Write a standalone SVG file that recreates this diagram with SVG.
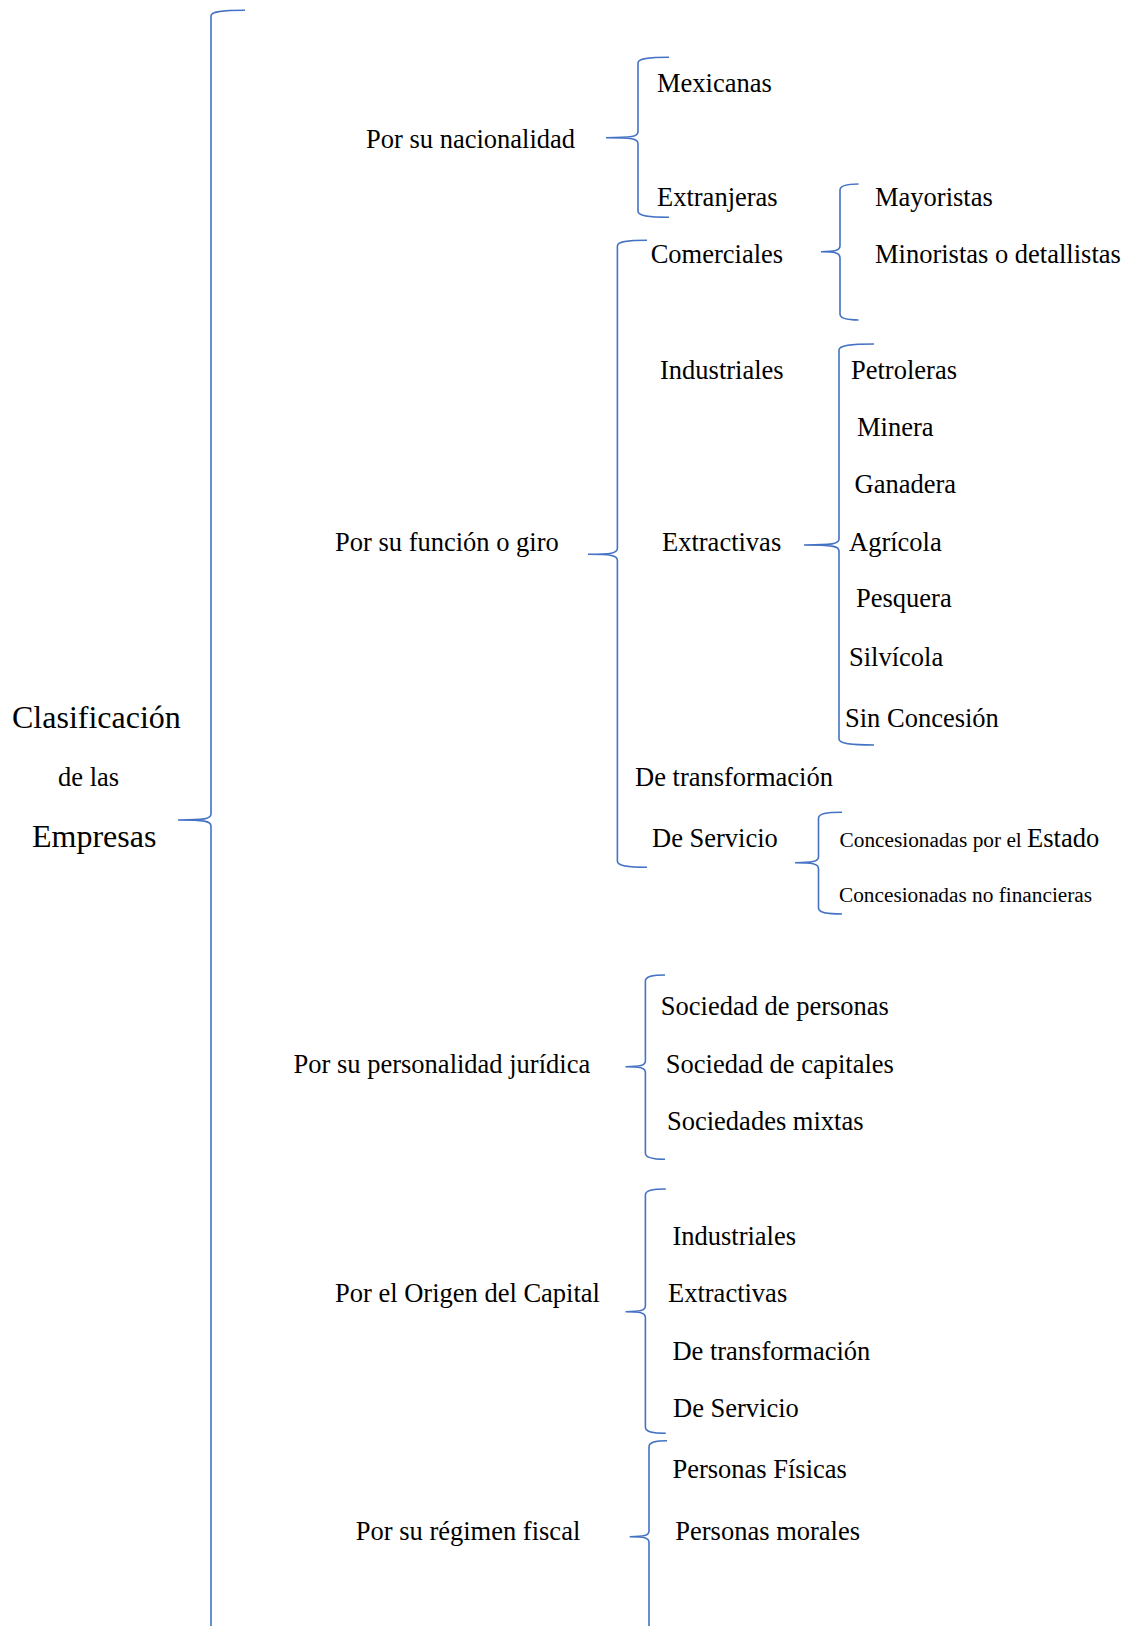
<svg xmlns="http://www.w3.org/2000/svg" width="1131" height="1626" viewBox="0 0 1131 1626">
<style>
.t{font-family:"Liberation Serif","Times New Roman",serif;font-size:26.5px;fill:#000}
.big{font-size:32px}
.sm{font-size:21.3px}
.br{fill:none;stroke:#4472C4;stroke-width:1.6}
</style>
<rect width="1131" height="1626" fill="#fff"/>
<g id="connectors">
<path class="br" d="M245,10.3 C221,10.3 211,11.5 211,16 L211,814 C211,819 204,820 178,820 C204,820 211,821 211,826 L211,1700"/>
<path class="br" d="M669,57.3 C648,57.3 638,58.5 638,63 L638,131.7 C638,136.7 632,137.7 606,137.7 C632,137.7 638,138.7 638,143.7 L638,211.3 C638,215.8 648,217.3 669,217.3"/>
<path class="br" d="M647,240.3 C627,240.3 617.4,241.5 617.4,246 L617.4,548.3 C617.4,553.3 611,554.3 588,554.3 C611,554.3 617.4,555.3 617.4,560.3 L617.4,861.3 C617.4,865.8 627,867.3 647,867.3"/>
<path class="br" d="M858.5,184 C847,184 840,185.2 840,190 L840,245.7 C840,250.7 834,251.7 821,251.7 C834,251.7 840,252.7 840,257.7 L840,314 C840,318.5 847,320 858.5,320"/>
<path class="br" d="M874,344 C850,344 839,345.2 839,350 L839,539 C839,544 832,545 804,545 C832,545 839,546 839,551 L839,739 C839,743.5 850,745 874,745"/>
<path class="br" d="M842,812.3 C826,812.3 818.5,813.5 818.5,818.3 L818.5,856.7 C818.5,861.7 812,862.7 795,862.7 C812,862.7 818.5,863.7 818.5,868.7 L818.5,908 C818.5,912.5 826,914 842,914"/>
<path class="br" d="M665,975 C652,975 645.4,976.2 645.4,981 L645.4,1060.7 C645.4,1065.7 640,1066.7 625.5,1066.7 C640,1066.7 645.4,1067.7 645.4,1072.7 L645.4,1153.3 C645.4,1157.8 652,1159.3 665,1159.3"/>
<path class="br" d="M665.8,1189 C652,1189 645.4,1190.2 645.4,1195 L645.4,1305.7 C645.4,1310.7 640,1311.7 625.5,1311.7 C640,1311.7 645.4,1312.7 645.4,1317.7 L645.4,1427.3 C645.4,1431.8 652,1433.3 665.8,1433.3"/>
<path class="br" d="M667,1440.7 C655,1440.7 649,1441.9 649,1446.7 L649,1530.7 C649,1535.7 644,1536.7 629.7,1536.7 C644,1536.7 649,1537.7 649,1542.7 L649,1700"/>
</g>
<g id="root"><text class="t big" x="12" y="728">Clasificación</text><text class="t" x="58" y="786">de las</text><text class="t big" x="32" y="847">Empresas</text></g>
<g id="nacionalidad"><text class="t" x="366" y="148">Por su nacionalidad</text></g>
<g id="mexicanas"><text class="t" x="657" y="91.7">Mexicanas</text></g>
<g id="extranjeras"><text class="t" x="657" y="205.7">Extranjeras</text></g>
<g id="mayoristas"><text class="t" x="875" y="205.7">Mayoristas</text></g>
<g id="minoristas"><text class="t" x="875" y="263.3">Minoristas o detallistas</text></g>
<g id="funcion"><text class="t" x="335" y="551">Por su función o giro</text></g>
<g id="comerciales"><text class="t" x="650.7" y="263.3">Comerciales</text></g>
<g id="industriales"><text class="t" x="660" y="379.3">Industriales</text></g>
<g id="extractivas"><text class="t" x="662" y="550.7">Extractivas</text></g>
<g id="transformacion"><text class="t" x="635" y="786">De transformación</text></g>
<g id="servicio"><text class="t" x="652" y="847.3">De Servicio</text></g>
<g id="petroleras"><text class="t" x="851" y="379.3">Petroleras</text></g>
<g id="minera"><text class="t" x="857" y="436">Minera</text></g>
<g id="ganadera"><text class="t" x="854.5" y="492.7">Ganadera</text></g>
<g id="agricola"><text class="t" x="849" y="550.7">Agrícola</text></g>
<g id="pesquera"><text class="t" x="856" y="607.3">Pesquera</text></g>
<g id="silvicola"><text class="t" x="849" y="666">Silvícola</text></g>
<g id="sinconcesion"><text class="t" x="845" y="727.3">Sin Concesión</text></g>
<g id="concestado"><text class="t" x="839.6" y="847.3"><tspan class="sm">Concesionadas por el </tspan>Estado</text></g>
<g id="concnofin"><text class="t sm" x="839" y="901.7">Concesionadas no financieras</text></g>
<g id="personalidad"><text class="t" x="293.6" y="1072.7">Por su personalidad jurídica</text></g>
<g id="socpersonas"><text class="t" x="660.8" y="1015">Sociedad de personas</text></g>
<g id="soccapitales"><text class="t" x="665.8" y="1072.7">Sociedad de capitales</text></g>
<g id="socmixtas"><text class="t" x="667" y="1130">Sociedades mixtas</text></g>
<g id="origen"><text class="t" x="335" y="1301.7">Por el Origen del Capital</text></g>
<g id="o-industriales"><text class="t" x="672.4" y="1245">Industriales</text></g>
<g id="o-extractivas"><text class="t" x="668" y="1301.7">Extractivas</text></g>
<g id="o-transformacion"><text class="t" x="672.4" y="1360">De transformación</text></g>
<g id="o-servicio"><text class="t" x="673" y="1416.7">De Servicio</text></g>
<g id="regimen"><text class="t" x="355.8" y="1540">Por su régimen fiscal</text></g>
<g id="fisicas"><text class="t" x="672.4" y="1478.3">Personas Físicas</text></g>
<g id="morales"><text class="t" x="675.3" y="1540">Personas morales</text></g>
</svg>
